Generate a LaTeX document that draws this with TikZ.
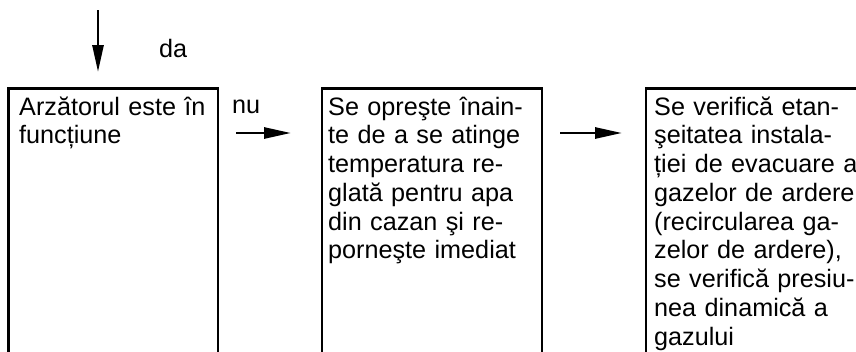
\documentclass[tikz,border=0pt]{standalone}
\usepackage{fontspec}
\setmainfont{Liberation Sans}
\usetikzlibrary{arrows.meta}
\tikzset{
  boxline/.style={line width=2.5pt},
  txt/.style={font=\fontsize{25.2}{28.75}\selectfont, execute at begin node={\lineskiplimit=-50pt\relax}, anchor=base west, inner sep=0pt, align=left, text width=215pt},
  lbl/.style={font=\fontsize{25.2}{28.75}\selectfont, anchor=base west, inner sep=0pt},
  arr/.style={line width=2.8pt, -{Triangle[length=27pt,width=11pt]}}
}
\begin{document}
\begin{tikzpicture}[x=1pt,y=-1pt]
\useasboundingbox (0,0) rectangle (856,351);
\clip (0,0) rectangle (856,351);
% boxes (open at the bottom)
\draw[boxline] (8.5,360) -- (8.5,88.5) -- (218,88.5) -- (218,360);
\draw[boxline] (322,360) -- (322,88.5) -- (542,88.5) -- (542,360);
\draw[boxline] (646,360) -- (646,88.5) -- (870,88.5);
% texts
\node[txt] (t1) at (19,115) {Arzătorul este în\\funcțiune};
\node[txt] (t2) at (328,115) {Se opreşte înain-\\te de a se atinge\\temperatura re-\\glată pentru apa\\din cazan şi re-\\porneşte imediat};
\node[txt] (t3) at (654,115) {Se verifică etan-\\şeitatea instala-\\ției de evacuare a\\gazelor de ardere\\(recircularea ga-\\zelor de ardere),\\se verifică presiu-\\nea dinamică a\\gazului};
\node[lbl] (da) at (159,57) {da};
\node[lbl] (nu) at (232,113) {nu};
% arrows
\coordinate (a0s) at (98,10);
\coordinate (a0e) at (98,72);
\coordinate (a1s) at (236,133);
\coordinate (a1e) at (291,133);
\coordinate (a2s) at (560,133);
\coordinate (a2e) at (622,133);
\draw[arr] (a0s) -- (a0e);
\draw[arr] (a1s) -- (a1e);
\draw[arr] (a2s) -- (a2e);
\end{tikzpicture}
\end{document}
